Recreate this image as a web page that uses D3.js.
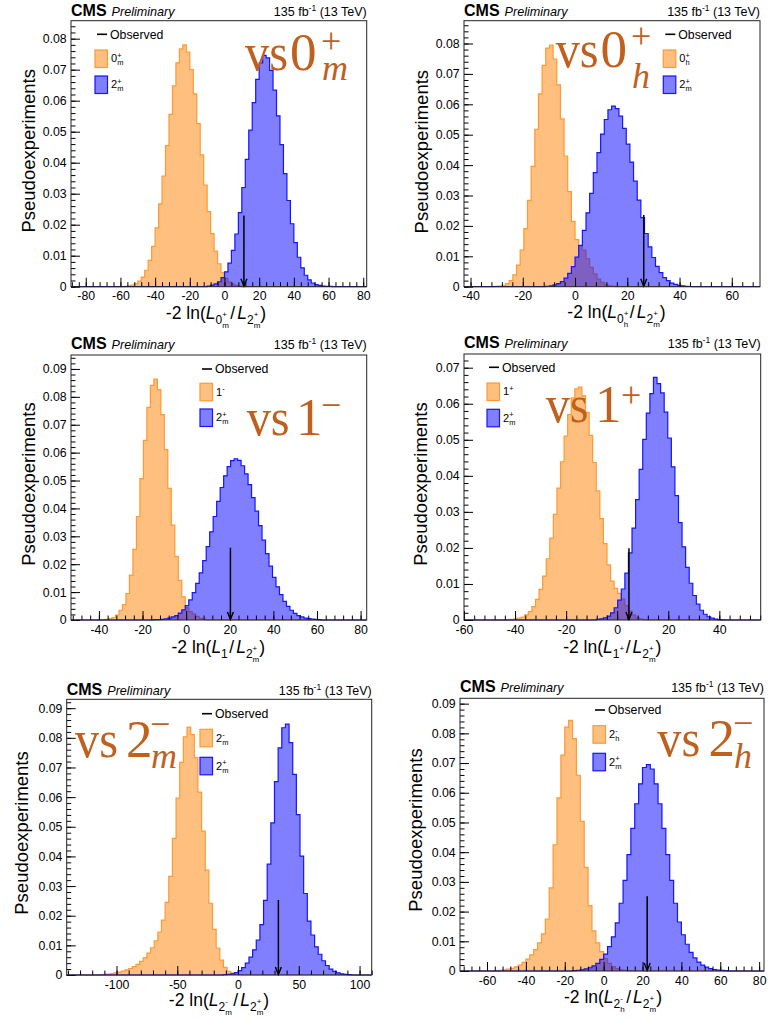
<!DOCTYPE html>
<html><head><meta charset="utf-8">
<script src="https://cdn.jsdelivr.net/npm/d3@7"></script>
<style>body{margin:0;background:#fff}svg{display:block}</style>
</head><body>
<svg id="chart" width="769" height="1019"></svg>
<script>
// ---------------- DATA ----------------
const xDomains = [[-88.5, 82], [-42.5, 70.8], [-52.8, 82.8], [-60, 56.2], [-141, 110], [-73.9, 82.5]];
const yMaxes = [0.0858, 0.0875, 0.095, 0.0738, 0.093, 0.0918];
const xTickValues = [
  [-80, -60, -40, -20, 0, 20, 40, 60, 80],
  [-40, -20, 0, 20, 40, 60],
  [-40, -20, 0, 20, 40, 60, 80],
  [-60, -40, -20, 0, 20, 40],
  [-100, -50, 0, 50, 100],
  [-60, -40, -20, 0, 20, 40, 60, 80]
];
const xMinorSteps = [4, 4, 4, 4, 10, 4];
const yTickValues = [
  [0, 0.01, 0.02, 0.03, 0.04, 0.05, 0.06, 0.07, 0.08],
  [0, 0.01, 0.02, 0.03, 0.04, 0.05, 0.06, 0.07, 0.08],
  [0, 0.01, 0.02, 0.03, 0.04, 0.05, 0.06, 0.07, 0.08, 0.09],
  [0, 0.01, 0.02, 0.03, 0.04, 0.05, 0.06, 0.07],
  [0, 0.01, 0.02, 0.03, 0.04, 0.05, 0.06, 0.07, 0.08, 0.09],
  [0, 0.01, 0.02, 0.03, 0.04, 0.05, 0.06, 0.07, 0.08, 0.09]
];
const binWidths = [2, 1.4, 1.6, 1.4, 3, 2];
const altHypLabel = {num: '2', sup: '+', sub: 'm'};
const nullHypNum = ['0', '0', '1', '1', '2', '2'];
const nullHypSup = ['+', '+', '-', '+', '-', '-'];
const nullHypSub = ['m', 'h', '', '', 'm', 'h'];
const observedValues = [11.2, 26.3, 20.3, 4.6, 33.2, 22.4];
const observedArrowTop = [0.023, 0.0236, 0.0259, 0.0199, 0.0253, 0.0252];

// first bin lower edges
const nullFirstEdge = [-58, -30.8, -38.8, -43.2, -114, -56];
const altFirstEdge = [-10, -11.2, -14.8, -8.2, -12, -16];

// vs 0+m
const null0m = [0.0001,0.00025,0.0005,0.001,0.0018,0.0031,0.0053,0.0085,0.013,0.019,0.0267,0.0357,0.0455,0.0556,0.0648,0.0722,0.0767,0.078,0.0757,0.070,0.0622,0.0526,0.0425,0.0328,0.0242,0.0171,0.0115,0.0074,0.0045,0.0027,0.0015,0.0008,0.0004,0.0002];
const alt0m = [0.0002,0.0005,0.0009,0.0016,0.0029,0.0048,0.0076,0.0117,0.017,0.0239,0.032,0.0411,0.0505,0.0594,0.0669,0.0722,0.0746,0.0738,0.0698,0.0634,0.0551,0.0458,0.0365,0.0278,0.0203,0.0142,0.0095,0.0061,0.0037,0.0022,0.0012,0.0007,0.0004,0.0002,0.0001,0.0001];
// vs 0+h
const null0h = [0.0001,0.0002,0.00045,0.001,0.002,0.0039,0.0071,0.012,0.0191,0.0284,0.0396,0.0518,0.0634,0.0728,0.0785,0.0795,0.0749,0.0664,0.0552,0.043,0.0313,0.0215,0.0155,0.0135,0.012,0.0092,0.0064,0.0042,0.0025,0.0014,0.0007,0.0003,0.0001];
const alt0h = [0.00015,0.0003,0.0006,0.001,0.0017,0.0028,0.0044,0.0066,0.0097,0.0136,0.0185,0.0243,0.0307,0.0375,0.0441,0.0502,0.055,0.0582,0.0594,0.0586,0.0561,0.0521,0.0469,0.041,0.0347,0.0285,0.0227,0.0175,0.0131,0.0096,0.0067,0.0046,0.003,0.002,0.0012,0.00075,0.00043,0.00025,0.00013,0.00007];
// vs 1-
const null1m = [0.0001,0.0002,0.0005,0.0009,0.0018,0.0035,0.0055,0.0095,0.0161,0.0253,0.0371,0.0507,0.0644,0.0762,0.0841,0.0864,0.0826,0.0736,0.0611,0.0472,0.034,0.0228,0.0142,0.0083,0.0045,0.003,0.0022,0.0013,0.0006,0.0002];
const alt1m = [0.0001,0.00015,0.00025,0.0004,0.0007,0.0011,0.0016,0.0025,0.0036,0.0052,0.0072,0.0098,0.0131,0.0169,0.0213,0.0263,0.0316,0.0371,0.0425,0.0475,0.0517,0.055,0.0571,0.0578,0.0572,0.0553,0.0524,0.0485,0.0439,0.039,0.0338,0.0286,0.0238,0.0193,0.0153,0.0119,0.0091,0.0067,0.0049,0.0035,0.0024,0.0016,0.0011,0.0007,0.0005,0.0003,0.0002,0.0001];
// vs 1+
const null1p = [0.0001,0.00015,0.0003,0.0005,0.0008,0.0014,0.0023,0.0037,0.0057,0.0085,0.0122,0.017,0.0227,0.0293,0.0366,0.0439,0.051,0.057,0.0616,0.0641,0.0646,0.0622,0.0576,0.0512,0.0437,0.0358,0.0281,0.0212,0.0153,0.0108,0.0088,0.0074,0.0058,0.004,0.0025,0.0014,0.0007,0.0003,0.0001];
const alt1p = [0.00015,0.0003,0.0006,0.0011,0.002,0.0034,0.0055,0.0086,0.013,0.0186,0.0255,0.0334,0.0418,0.0501,0.0574,0.0628,0.0673,0.0656,0.063,0.0577,0.0505,0.0425,0.0345,0.027,0.0203,0.0146,0.0102,0.0068,0.0044,0.0027,0.0016,0.0009,0.0005,0.00025,0.00012,0.00006];
// vs 2-m
const null2m = [0.0001,0.0002,0.0003,0.0005,0.0007,0.001,0.0013,0.0017,0.0022,0.0028,0.0036,0.0046,0.0058,0.0074,0.0092,0.0115,0.0145,0.0185,0.0245,0.0333,0.0461,0.0597,0.0717,0.0803,0.0836,0.0811,0.0733,0.0617,0.0485,0.0354,0.0242,0.0154,0.0091,0.005,0.0026,0.0012,0.0006,0.0002,0.0001];
const alt2m = [0.0001,0.0002,0.0004,0.0008,0.0015,0.0025,0.004,0.006,0.0085,0.0118,0.017,0.0252,0.0374,0.0513,0.0652,0.0766,0.0834,0.0846,0.0784,0.0677,0.0541,0.0401,0.0275,0.0182,0.0135,0.0095,0.007,0.0048,0.0032,0.002,0.0012,0.0007,0.0004,0.0002,0.0001];
// vs 2-h
const null2h = [0.0001,0.0002,0.0004,0.0006,0.0009,0.0014,0.002,0.0029,0.004,0.0054,0.0072,0.0095,0.0125,0.0175,0.028,0.0425,0.0583,0.0727,0.0821,0.0844,0.0782,0.0659,0.0504,0.0349,0.022,0.0135,0.0095,0.0065,0.0042,0.0026,0.0015,0.0008,0.0004,0.0002,0.0001];
const alt2h = [0.0001,0.0002,0.0004,0.0007,0.0011,0.0017,0.0026,0.0039,0.0057,0.0082,0.0115,0.0162,0.0228,0.0305,0.0392,0.048,0.0563,0.063,0.0685,0.0695,0.068,0.063,0.0563,0.048,0.0392,0.0305,0.0228,0.0165,0.0122,0.009,0.0063,0.0044,0.003,0.002,0.0013,0.0008,0.0005,0.0003,0.0002,0.0001];

const nullSeries = [null0m, null0h, null1m, null1p, null2m, null2h];
const altSeries = [alt0m, alt0h, alt1m, alt1p, alt2m, alt2h];

// ---------------- LAYOUT ----------------
const frames = [
  {l: 71, r: 366.7, t: 20.7, b: 286.7},
  {l: 464, r: 760, t: 20.7, b: 286.7},
  {l: 71, r: 366.7, t: 355, b: 620},
  {l: 464, r: 760.7, t: 354, b: 620},
  {l: 66.7, r: 371.7, t: 699.3, b: 975},
  {l: 460, r: 764, t: 698.3, b: 971}
];
const headerY = [16, 16, 349.3, 348.3, 695, 692];
const yTitlePos = [[35, 150.8], [428, 151.7], [35, 484], [427.3, 484], [28.3, 833], [421.7, 830]];
const xTitlePos = [[216, 319.3], [616.5, 318.3], [218.3, 653.3], [612.3, 653.3], [219, 1006], [613, 1003]];
const legendPos = [
  {x: 95, obsY: 34.3, oY: 50, bY: 76},
  {x: 663.3, obsY: 34.3, oY: 50, bY: 76},
  {x: 200, obsY: 369, oY: 383.3, bY: 409},
  {x: 487, obsY: 367.3, oY: 383, bY: 409.3},
  {x: 200, obsY: 713.7, oY: 729.3, bY: 757.3},
  {x: 593, obsY: 710, oY: 725.7, bY: 753.3}
];
const annot = [
  {vsX: 245, numX: 290, scrX: 321, y: 70, supDy: -17, subDy: 10},
  {vsX: 555.7, numX: 600.5, scrX: 631, y: 66.7, supDy: -19, subDy: 21},
  {vsX: 246.7, numX: 296, scrX: 321, y: 435, supDy: -18, subDy: 0},
  {vsX: 545.7, numX: 595, scrX: 621, y: 421.7, supDy: -15, subDy: 0},
  {vsX: 75, numX: 126, scrX: 150, y: 757.3, supDy: -21, subDy: 11},
  {vsX: 657.3, numX: 708.5, scrX: 733, y: 756, supDy: -21, subDy: 12}
];

const SANS = "'Liberation Sans', Arial, Helvetica, sans-serif";
const SERIF = "'Liberation Serif', 'Times New Roman', serif";
const ORANGE_FILL = 'rgba(255,128,0,0.5)';
const ORANGE_LINE = '#ff9933';
const BLUE_FILL = 'rgba(0,0,255,0.5)';
const BLUE_LINE = '#1515ff';
const ANNOT_COLOR = '#c0601e';

const svg = d3.select('#chart');

function rich(g, x, y, parts, anchor, base) {
  const grp = g.append('g');
  let cx = 0;
  parts.forEach(p => {
    if (p.gap !== undefined) { cx += p.gap; return; }
    const items = p.stack || [p];
    let w = 0;
    items.forEach(it => {
      if (!it.t) return;
      const t = grp.append('text').attr('x', cx).attr('y', it.dy || 0)
        .attr('font-size', it.size || base.size)
        .attr('font-family', it.family || base.family)
        .attr('font-style', it.italic ? 'italic' : 'normal')
        .attr('font-weight', it.bold ? 'bold' : 'normal')
        .attr('fill', it.fill || base.fill || '#000')
        .attr('xml:space', 'preserve')
        .style('white-space', 'pre')
        .text(it.t);
      w = Math.max(w, t.node().getComputedTextLength());
    });
    cx += w;
  });
  const off = anchor === 'middle' ? -cx / 2 : anchor === 'end' ? -cx : 0;
  grp.attr('transform', `translate(${x + off},${y})`);
  return cx;
}

function stepPoints(first, w, vals) {
  const pts = [[first, 0]];
  vals.forEach((v, i) => { pts.push([first + i * w, v]); pts.push([first + (i + 1) * w, v]); });
  pts.push([first + vals.length * w, 0]);
  return pts;
}

function hypParts(num, sup, sub, size, small, baseDy) {
  const parts = [{t: num, size: size, dy: baseDy}];
  if (sup || sub) {
    parts.push({stack: [
      {t: sup, size: small, dy: baseDy - size * 0.42},
      {t: sub, size: small, dy: baseDy + size * 0.28}
    ]});
  }
  return parts;
}

for (let p = 0; p < 6; p++) {
  const f = frames[p];
  const g = svg.append('g');
  const x = d3.scaleLinear().domain(xDomains[p]).range([f.l, f.r]);
  const y = d3.scaleLinear().domain([0, yMaxes[p]]).range([f.b, f.t]);

  const clipId = 'clip' + p;
  svg.append('clipPath').attr('id', clipId).append('rect')
    .attr('x', f.l).attr('y', f.t).attr('width', f.r - f.l).attr('height', f.b - f.t + 1);

  const line = d3.line().x(d => x(d[0])).y(d => y(d[1]));
  const plot = g.append('g').attr('clip-path', `url(#${clipId})`);

  const nPts = stepPoints(nullFirstEdge[p], binWidths[p], nullSeries[p]);
  const aPts = stepPoints(altFirstEdge[p], binWidths[p], altSeries[p]);

  plot.append('path').attr('d', line(nPts) + 'Z').attr('fill', ORANGE_FILL).attr('stroke', 'none');
  plot.append('path').attr('d', line([[xDomains[p][0], 0], ...nPts, [xDomains[p][1], 0]]))
    .attr('fill', 'none').attr('stroke', ORANGE_LINE).attr('stroke-width', 1.2);
  plot.append('path').attr('d', line(aPts) + 'Z').attr('fill', BLUE_FILL).attr('stroke', 'none');
  plot.append('path').attr('d', line([[xDomains[p][0], 0], ...aPts, [xDomains[p][1], 0]]))
    .attr('fill', 'none').attr('stroke', BLUE_LINE).attr('stroke-width', 1.2);

  // observed arrow
  const ox = x(observedValues[p]);
  plot.append('line').attr('x1', ox).attr('x2', ox)
    .attr('y1', y(observedArrowTop[p])).attr('y2', y(0) - 0.5)
    .attr('stroke', '#000').attr('stroke-width', 1.5);
  plot.append('path')
    .attr('d', `M${ox - 3},${y(0) - 8} L${ox},${y(0) - 0.5} L${ox + 3},${y(0) - 8}`)
    .attr('fill', 'none').attr('stroke', '#000').attr('stroke-width', 1.4);

  // axes
  const xMinor = d3.range(Math.ceil(xDomains[p][0] / xMinorSteps[p]) * xMinorSteps[p], xDomains[p][1] + 1e-9, xMinorSteps[p]);
  g.append('g').attr('transform', `translate(0,${f.b})`)
    .call(d3.axisBottom(x).tickValues(xMinor).tickSize(-4.5).tickFormat(''))
    .call(a => a.select('.domain').remove())
    .call(a => a.selectAll('line').attr('stroke', '#000'));
  g.append('g').attr('transform', `translate(0,${f.b})`)
    .call(d3.axisBottom(x).tickValues(xTickValues[p]).tickSize(-9).tickPadding(4.8).tickFormat(d3.format('d')))
    .call(a => a.select('.domain').remove())
    .call(a => a.selectAll('line').attr('stroke', '#000'))
    .call(a => a.selectAll('text').attr('font-size', 12.3).attr('font-family', SANS).attr('fill', '#000')
      .text(d => (d < 0 ? '-' + Math.abs(d) : String(d))));

  const yMinor = d3.range(0, yMaxes[p] + 1e-9, 0.002);
  g.append('g').attr('transform', `translate(${f.l},0)`)
    .call(d3.axisLeft(y).tickValues(yMinor).tickSize(-4.5).tickFormat(''))
    .call(a => a.select('.domain').remove())
    .call(a => a.selectAll('line').attr('stroke', '#000'));
  g.append('g').attr('transform', `translate(${f.l},0)`)
    .call(d3.axisLeft(y).tickValues(yTickValues[p]).tickSize(-9).tickPadding(4.3)
      .tickFormat(d => d === 0 ? '0' : d3.format('.2f')(d)))
    .call(a => a.select('.domain').remove())
    .call(a => a.selectAll('line').attr('stroke', '#000'))
    .call(a => a.selectAll('text').attr('font-size', 12.3).attr('font-family', SANS).attr('fill', '#000'));

  // frame
  g.append('rect').attr('x', f.l).attr('y', f.t).attr('width', f.r - f.l).attr('height', f.b - f.t)
    .attr('fill', 'none').attr('stroke', '#222').attr('stroke-width', 1);

  // header
  rich(g, f.l, headerY[p], [
    {t: 'CMS', bold: true, size: 16},
    {gap: 5},
    {t: 'Preliminary', italic: true, size: 12.6}
  ], 'start', {family: SANS, size: 12});
  rich(g, f.r, headerY[p], [
    {t: '135 fb', size: 12.5},
    {t: '-1', size: 8.5, dy: -5},
    {gap: 3.5},
    {t: '(13 TeV)', size: 12.5}
  ], 'end', {family: SANS, size: 12.5});

  // y title
  g.append('text').attr('transform', `translate(${yTitlePos[p][0]},${yTitlePos[p][1]}) rotate(-90)`)
    .attr('text-anchor', 'middle').attr('font-family', SANS).attr('font-size', 18.5).attr('fill', '#000')
    .text('Pseudoexperiments');

  // x title
  const TS = 17.5, SS = 12, XS = 8;
  const nullSub = [{t: nullHypNum[p], size: SS, dy: 5}];
  if (p !== 2 && (nullHypSup[p] || nullHypSub[p])) {
    nullSub.push({stack: [
      {t: nullHypSup[p], size: XS, dy: -2},
      {t: nullHypSub[p], size: XS, dy: 9}
    ]});
  }
  rich(g, xTitlePos[p][0], xTitlePos[p][1], [
    {t: '-2 ln(', size: TS},
    {t: 'L', size: TS, italic: true},
    ...nullSub,
    {gap: 1.5},
    {t: '/', size: TS},
    {gap: 2},
    {t: 'L', size: TS, italic: true},
    {t: altHypLabel.num, size: SS, dy: 5},
    {stack: [{t: altHypLabel.sup, size: XS, dy: -2}, {t: altHypLabel.sub, size: XS, dy: 9}]},
    {t: ')', size: TS}
  ], 'middle', {family: SANS, size: TS});

  // legend
  const L = legendPos[p];
  g.append('line').attr('x1', L.x + 2).attr('x2', L.x + 12).attr('y1', L.obsY).attr('y2', L.obsY)
    .attr('stroke', '#000').attr('stroke-width', 1.6);
  g.append('text').attr('x', L.x + 15).attr('y', L.obsY + 4.3).attr('font-family', SANS).attr('font-size', 12.3)
    .attr('fill', '#000').text('Observed');
  const BW = 12.5, BH = 17.5;
  g.append('rect').attr('x', L.x).attr('y', L.oY).attr('width', BW).attr('height', BH)
    .attr('fill', ORANGE_FILL).attr('stroke', ORANGE_LINE).attr('stroke-width', 1.2);
  g.append('rect').attr('x', L.x).attr('y', L.bY).attr('width', BW).attr('height', BH)
    .attr('fill', BLUE_FILL).attr('stroke', BLUE_LINE).attr('stroke-width', 1.2);
  rich(g, L.x + 16, L.oY + BH / 2 + 3.5, hypParts(nullHypNum[p], nullHypSup[p], nullHypSub[p], 11, 7.5, 0), 'start', {family: SANS, size: 11});
  rich(g, L.x + 16, L.bY + BH / 2 + 3.5, hypParts(altHypLabel.num, altHypLabel.sup, altHypLabel.sub, 11, 7.5, 0), 'start', {family: SANS, size: 11});

  // big annotation
  const A = annot[p];
  const ag = g.append('g').attr('font-family', SERIF).attr('fill', ANNOT_COLOR);
  ag.append('text').attr('x', A.vsX).attr('y', A.y).attr('font-size', 52).attr('textLength', 43)
    .attr('lengthAdjust', 'spacingAndGlyphs').text('vs');
  ag.append('text').attr('x', A.numX).attr('y', A.y).attr('font-size', 53).text(nullHypNum[p]);
  ag.append('text').attr('x', A.scrX).attr('y', A.y + A.supDy).attr('font-size', 36)
    .text(nullHypSup[p] === '-' ? '\u2212' : '+');
  if (nullHypSub[p]) {
    ag.append('text').attr('x', A.scrX + 1).attr('y', A.y + A.subDy).attr('font-size', 36)
      .attr('font-style', 'italic').text(nullHypSub[p]);
  }
}
</script>
</body></html>
